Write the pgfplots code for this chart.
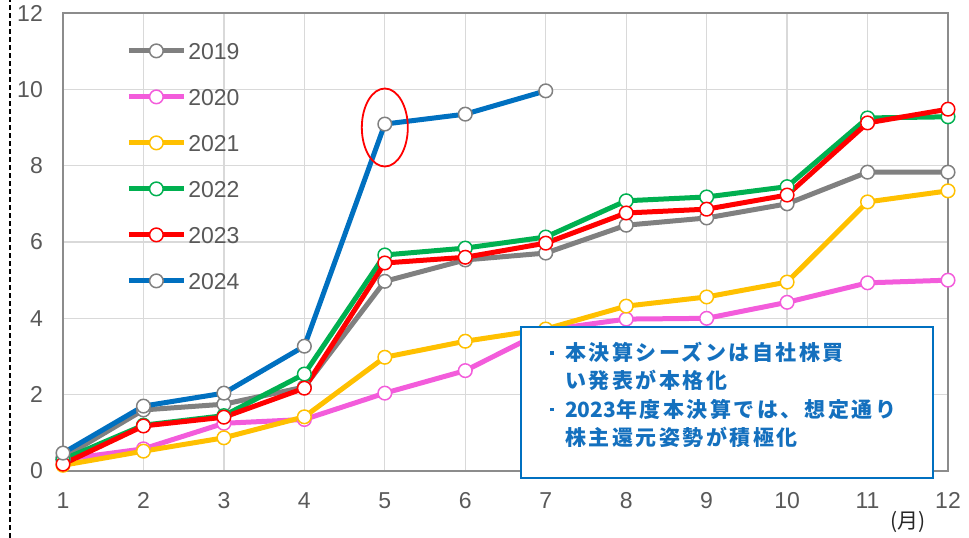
\documentclass[border=0pt]{standalone}
\usepackage{pgfplots}
\pgfplotsset{compat=1.18}
\usepackage{fontspec}
\setmainfont{Liberation Sans}
\newfontfamily\cjk{Noto Sans CJK JP}
\newfontfamily\cjkb{Noto Sans CJK JP}[LetterSpace=12]
\definecolor{c19}{HTML}{808080}
\definecolor{c20}{HTML}{F35CDB}
\definecolor{c21}{HTML}{FFC000}
\definecolor{c22}{HTML}{00B050}
\definecolor{c23}{HTML}{FF0000}
\definecolor{c24}{HTML}{0070C0}
\definecolor{gridgray}{HTML}{D9D9D9}
\definecolor{axgray}{HTML}{8C8C8C}
\definecolor{labgray}{HTML}{595959}
\definecolor{txtblue}{HTML}{1470BE}
\begin{document}
\begin{tikzpicture}
\path[use as bounding box] (-63pt,-67pt) rectangle (906pt,471pt);
\begin{axis}[
  at={(0pt,0pt)}, anchor=south west,
  width=885pt, height=458pt, scale only axis,
  xmin=1, xmax=12, ymin=0, ymax=12,
  xtick={1,...,12}, ytick={0,2,...,12},
  grid=major,
  major grid style={draw=gridgray, line width=1.2pt},
  axis line style={draw=axgray, line width=1.3pt},
  tick style={draw=none},
  /pgf/number format/assume math mode=true,
  ticklabel style={font=\fontsize{23}{23}\selectfont, text=labgray, inner sep=0pt},
  yticklabel style={xshift=-20pt},
  xticklabel style={yshift=-21pt},
  clip=false,
  every axis plot/.append style={line width=5pt, mark=*, mark size=6.8pt},
  legend style={at={(axis description cs:0.068,0.945)}, anchor=north west,
    draw=none, fill=none, font=\fontsize{23}{23}\selectfont, text=labgray,
    row sep=25pt, nodes={inner sep=2pt, text height=17pt, text depth=0pt}},
  legend cell align=left,
  legend image code/.code={\draw[mark repeat=2, mark phase=2, #1] plot coordinates {(0pt,0pt) (27.5pt,0pt) (55pt,0pt)};},
]
\addplot[c19, mark options={solid, fill=white, draw=c19, line width=1.5pt}] coordinates {(1,0.35)(2,1.6)(3,1.75)(4,2.2)(5,4.97)(6,5.53)(7,5.71)(8,6.44)(9,6.63)(10,7.0)(11,7.83)(12,7.83)};
\addlegendentry{2019}
\addplot[c20, mark options={solid, fill=white, draw=c20, line width=1.5pt}] coordinates {(1,0.3)(2,0.58)(3,1.25)(4,1.35)(5,2.04)(6,2.63)(7,3.69)(8,3.98)(9,4.0)(10,4.42)(11,4.93)(12,5.0)};
\addlegendentry{2020}
\addplot[c21, mark options={solid, fill=white, draw=c21, line width=1.5pt}] coordinates {(1,0.15)(2,0.52)(3,0.87)(4,1.42)(5,2.98)(6,3.4)(7,3.72)(8,4.32)(9,4.56)(10,4.95)(11,7.05)(12,7.34)};
\addlegendentry{2021}
\addplot[c22, mark options={solid, fill=white, draw=c22, line width=1.5pt}] coordinates {(1,0.3)(2,1.2)(3,1.45)(4,2.54)(5,5.66)(6,5.84)(7,6.13)(8,7.08)(9,7.18)(10,7.45)(11,9.25)(12,9.28)};
\addlegendentry{2022}
\addplot[c23, mark options={solid, fill=white, draw=c23, line width=1.5pt}] coordinates {(1,0.18)(2,1.18)(3,1.41)(4,2.17)(5,5.45)(6,5.6)(7,5.97)(8,6.76)(9,6.86)(10,7.23)(11,9.12)(12,9.48)};
\addlegendentry{2023}
\addplot[c24, mark options={solid, fill=white, draw=c19, line width=1.5pt}] coordinates {(1,0.47)(2,1.7)(3,2.04)(4,3.27)(5,9.09)(6,9.35)(7,9.96)};
\addlegendentry{2024}
\draw[red, line width=1.8pt] (axis cs:5,9.0) ellipse [x radius=23pt, y radius=39pt];
\end{axis}
\draw[black, line width=1.2pt, dash pattern=on 5pt off 3pt] (-53pt,-67pt) -- (-53pt,471pt);
\draw[c24, line width=1.6pt, fill=white] (458pt,-7pt) rectangle (870pt,144pt);
\node[anchor=north west, inner sep=0pt, align=left, text=txtblue,
  font=\cjkb\bfseries\fontsize{21}{28.3}\selectfont] at (487pt,129pt)
  {\makebox[15pt][l]{\raisebox{6pt}{\rule{3.5pt}{3.5pt}}}本決算シーズンは自社株買\\
   \hspace*{15pt}い発表が本格化\\
   \makebox[15pt][l]{\raisebox{6pt}{\rule{3.5pt}{3.5pt}}}{\cjk\bfseries 2023}年度本決算では、想定通り\\
   \hspace*{15pt}株主還元姿勢が積極化};
\node[anchor=center, inner sep=0pt, text=black!85, font=\cjk\fontsize{21}{21}\selectfont] at (845pt,-51pt) {(月)};
\end{tikzpicture}
\end{document}
